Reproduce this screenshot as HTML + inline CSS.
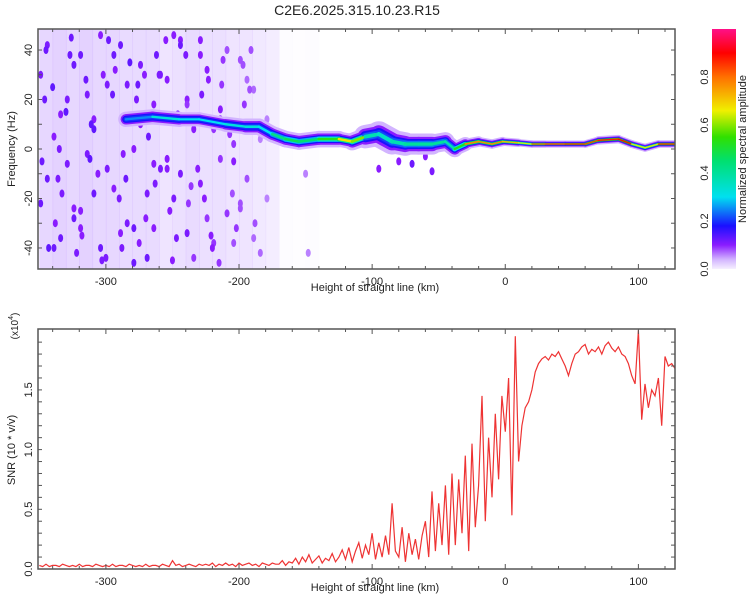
<!DOCTYPE html>
<html><head><meta charset="utf-8"><style>
html,body{margin:0;padding:0;background:#fff;}
svg{display:block;font-family:"Liberation Sans",sans-serif;}
</style></head><body>
<svg id="chart" width="750" height="600" viewBox="0 0 750 600">
<defs>
<linearGradient id="cbar" x1="0" y1="1" x2="0" y2="0">
<stop offset="0" stop-color="#f6f0ff"/><stop offset="0.04" stop-color="#d2b4ff"/>
<stop offset="0.1" stop-color="#8a1cff"/><stop offset="0.18" stop-color="#1a10ff"/>
<stop offset="0.3" stop-color="#00e0f0"/><stop offset="0.45" stop-color="#00e070"/>
<stop offset="0.55" stop-color="#30e000"/><stop offset="0.66" stop-color="#f0f000"/>
<stop offset="0.8" stop-color="#ff7000"/><stop offset="0.9" stop-color="#ff0000"/>
<stop offset="1" stop-color="#ff1088"/>
</linearGradient>
<clipPath id="clipTop"><rect x="38" y="29" width="637" height="240"/></clipPath>
<clipPath id="clipBot"><rect x="38" y="329" width="637" height="240"/></clipPath>
</defs>
<text x="357" y="15" text-anchor="middle" font-size="14" fill="#222">C2E6.2025.315.10.23.R15</text>
<g id="top"></g>
<g id="bot"></g>
<g id="cb"></g>
</svg>
<script>
// ---------- data ----------
const ridgeKm  = [-285,-265,-245,-230,-210,-195,-185,-175,-165,-155,-140,-125,-115,-105,-95,-85,-75,-65,-55,-45,-38,-30,-20,-10,-2,10,20,30,45,60,70,85,95,105,115,127.5];
const ridgeHz  = [12,13,12,12,10,9,9,6,4,3,4,4,3,5,6,3,2,2,2,3,0,2,3,2,3,2.5,2,2,2,2,3.5,4,2,0.5,2,2];
const ridgeAmp = [0.15,0.35,0.3,0.3,0.3,0.35,0.3,0.3,0.55,0.4,0.5,0.55,0.8,0.4,0.35,0.35,0.4,0.4,0.4,0.4,0.35,0.7,0.85,0.7,0.85,0.6,0.7,0.95,0.95,0.9,0.8,0.95,0.85,0.45,0.9,0.95];
const ridgeSpread = [3,3.5,3,3,3,3.5,3.5,3.5,3.5,3.5,3.5,3.5,3,4.5,5.5,5.5,4.5,4.5,4.5,3.5,3.5,2.5,2,2,2,1.6,1.6,1.5,1.5,1.5,1.8,1.8,1.6,1.8,1.6,1.6];
const bgBinKm  = [-350,-340,-330,-320,-310,-300,-290,-280,-270,-260,-250,-240,-230,-220,-210,-200,-190,-180,-170,-160,-150];
const bgLevel  = [0.45,0.5,0.45,0.5,0.45,0.45,0.4,0.4,0.4,0.3,0.35,0.4,0.35,0.35,0.3,0.3,0.25,0.2,0.04,0.02,0.04];
const dotKm = [-345,-338,-330,-322,-315,-306,-298,-290,-282,-275,-268,-260,-252,-244,-236,-228,-220,-212,-204,-196,-188,-348,-340,-333,-326,-318,-309,-300,-293,-285,-277,-270,-262,-254,-246,-238,-229,-221,-213,-205,-197,-343,-335,-327,-319,-311,-303,-295,-287,-279,-271,-263,-255,-247,-239,-231,-223,-215,-207,-199,-191,-346,-336,-324,-312,-302,-288,-276,-264,-250,-240,-226,-214,-202,-192,-150,-148,-95,-80,-70,-60,-55];
const dotHz = [40,-30,15,-42,28,-10,44,-20,35,-38,5,30,-25,42,-15,22,-40,36,-5,18,-30,-5,25,-18,45,-35,8,-44,32,-12,20,-28,38,-8,14,-22,44,-35,26,-18,34,-40,0,38,-25,10,-45,22,-2,-32,30,-14,44,-36,18,-8,28,-46,6,-24,40,20,-12,-28,-4,30,-40,26,-6,-45,38,-20,12,-32,24,-10,-42,-8,-5,-6,-3,-9];
const dotAmp = [0.12,0.1,0.13,0.11,0.12,0.1,0.12,0.11,0.13,0.1,0.12,0.11,0.1,0.12,0.09,0.11,0.1,0.09,0.1,0.09,0.08,0.12,0.13,0.11,0.12,0.1,0.13,0.11,0.1,0.12,0.11,0.1,0.12,0.1,0.11,0.09,0.1,0.1,0.09,0.08,0.08,0.13,0.11,0.12,0.1,0.13,0.11,0.12,0.1,0.12,0.1,0.11,0.1,0.11,0.09,0.1,0.1,0.09,0.09,0.08,0.08,0.12,0.11,0.12,0.13,0.1,0.11,0.12,0.1,0.1,0.11,0.1,0.09,0.09,0.08,0.06,0.06,0.1,0.1,0.12,0.1,0.11];
const dot2Km = [-349,-344,-339,-334,-329,-324,-319,-314,-309,-304,-299,-294,-289,-284,-279,-274,-269,-264,-259,-254,-249,-244,-239,-234,-229,-224,-219,-214,-209,-204,-199,-194,-189,-184,-179,
-349,-344,-339,-334,-329,-324,-319,-314,-309,-304,-299,-294,-289,-284,-279,-274,-269,-264,-259,-254,-249,-244,-239,-234,-229,-224,-219,-214,-209,-204,-199,-194,-189,-184,-179];
const dot2Hz = [30,-12,5,-36,20,-24,38,-2,12,-40,26,-16,42,-30,0,34,-44,18,-8,28,-20,44,-34,8,-14,32,-38,16,-26,2,36,-12,24,-42,12,
-22,42,-40,14,-6,34,-32,22,-18,46,-8,38,-34,26,-46,10,-18,-32,30,-4,46,-10,20,-44,38,-28,8,-4,40,-38,-22,28,-36,4,-20];
const dot2Amp = [0.11,0.12,0.1,0.12,0.11,0.1,0.12,0.11,0.1,0.12,0.11,0.1,0.12,0.11,0.1,0.11,0.12,0.1,0.11,0.1,0.11,0.1,0.11,0.1,0.1,0.1,0.09,0.1,0.09,0.09,0.08,0.08,0.07,0.07,0.06,
0.12,0.11,0.12,0.1,0.11,0.12,0.1,0.11,0.12,0.1,0.11,0.12,0.1,0.11,0.12,0.1,0.11,0.1,0.11,0.1,0.1,0.11,0.1,0.09,0.1,0.09,0.09,0.09,0.08,0.08,0.08,0.07,0.07,0.06,0.06];
const snrStartKm = -350, snrStepKm = 2.5;
const snrValues = [
0.03,0.02,0.04,0.02,0.03,0.03,0.02,0.04,0.03,0.02,0.03,0.02,0.04,0.02,0.03,0.03,0.02,0.04,0.03,0.02,
0.03,0.02,0.04,0.02,0.03,0.03,0.02,0.04,0.03,0.02,0.03,0.02,0.04,0.02,0.03,0.03,0.02,0.04,0.03,0.02,
0.07,0.03,0.04,0.02,0.03,0.04,0.03,0.02,0.04,0.03,0.04,0.03,0.05,0.02,0.04,0.03,0.05,0.03,0.04,0.02,
0.05,0.03,0.04,0.05,0.03,0.04,0.02,0.05,0.04,0.03,0.05,0.04,
0.04,0.07,0.03,0.06,0.05,0.09,0.04,0.10,0.06,0.12,0.05,0.08,0.11,0.05,0.09,0.07,0.13,0.06,0.10,0.16,
0.08,0.18,0.06,0.15,0.22,0.09,0.20,0.12,
0.30,0.08,0.22,0.10,0.28,0.12,0.55,0.15,
0.10,0.35,0.06,0.30,0.12,0.25,0.08,0.28,
0.40,0.10,0.65,0.15,0.55,0.20,0.70,0.12,
0.80,0.20,0.75,0.30,0.95,0.15,1.05,0.35,
0.70,1.45,0.40,1.10,0.60,1.30,0.75,1.45,
1.15,1.60,0.45,1.95,0.90,1.20,1.35,1.40,
1.50,1.65,1.72,1.76,1.78,1.75,1.80,1.78,
1.82,1.76,1.70,1.62,1.72,1.80,1.82,1.86,
1.88,1.80,1.84,1.82,1.86,1.80,1.87,1.90,
1.85,1.82,1.86,1.80,1.78,1.72,1.62,1.55,
2.00,1.25,1.55,1.35,1.50,1.45,1.60,1.20,
1.78,1.70,1.72,1.68];
const xTicks = [-300,-200,-100,0,100];
const fTicks = [-40,-20,0,20,40];
const snrTicks = [0.0,0.5,1.0,1.5];
const cbTicks = [0.0,0.2,0.4,0.6,0.8];

// ---------- helpers ----------
const NS="http://www.w3.org/2000/svg";
const L=38,R=675;
const xMin=-351,xMax=127.5;
const X=k=>L+(k-xMin)/(xMax-xMin)*(R-L);
const T0=29,T1=269, fMin=-48.5,fMax=48.5;
const FY=f=>T1-(f-fMin)/(fMax-fMin)*(T1-T0);
const FH=h=>h/(fMax-fMin)*(T1-T0);
const B0=329,B1=569, sMax=2.01;
const SY=v=>B1-v/sMax*(B1-B0);
function mk(tag,attrs,parent){const e=document.createElementNS(NS,tag);for(const k in attrs)e.setAttribute(k,attrs[k]);parent.appendChild(e);return e;}
const stops=[[0,[246,240,255]],[0.04,[210,180,255]],[0.1,[138,28,255]],[0.18,[26,16,255]],[0.3,[0,224,240]],[0.45,[0,224,112]],[0.55,[48,224,0]],[0.66,[240,240,0]],[0.8,[255,112,0]],[0.9,[255,0,0]],[1,[255,16,136]]];
function cmap(v){v=Math.max(0,Math.min(1,v));for(let i=1;i<stops.length;i++){if(v<=stops[i][0]){const a=stops[i-1],b=stops[i];const t=(v-a[0])/(b[0]-a[0]);const c=a[1].map((x,j)=>Math.round(x+(b[1][j]-x)*t));return 'rgb('+c.join(',')+')';}}return 'rgb(255,16,136)';}

// ---------- top panel ----------
const topG=document.getElementById('top');
const hm=mk('g',{'clip-path':'url(#clipTop)'},topG);


bgBinKm.forEach((k,i)=>{
  const r=mk('rect',{x:X(k),y:T0,width:X(k+10)-X(k)+0.5,height:T1-T0,fill:'#c9a6ff','fill-opacity':bgLevel[i]},hm);
  
  
});
dot2Km.forEach((k,i)=>{
  const e=mk('ellipse',{cx:X(k),cy:FY(dot2Hz[i]),rx:2.5,ry:4,fill:cmap(dot2Amp[i])},hm);
  
  
});
dotKm.forEach((k,i)=>{
  const e=mk('ellipse',{cx:X(k),cy:FY(dotHz[i]),rx:2.5,ry:4,fill:cmap(dotAmp[i])},hm);
  
  
});
const layers=[[0.04,1.9],[0.1,1.3],[0.18,0.9]];
layers.forEach(([a,w])=>{
  for(let i=0;i<ridgeKm.length-1;i++){
    const ln=mk('line',{x1:X(ridgeKm[i]),y1:FY(ridgeHz[i]),x2:X(ridgeKm[i+1]),y2:FY(ridgeHz[i+1]),stroke:cmap(a),'stroke-width':FH((ridgeSpread[i]+ridgeSpread[i+1])/2*w),'stroke-linecap':'round'},hm);
    
    
  }
});
[[0.6,0.6],[1,0.3]].forEach(([m,w])=>{
  for(let i=0;i<ridgeKm.length-1;i++){
    const amp=(ridgeAmp[i]+ridgeAmp[i+1])/2*m;
    const ln=mk('line',{x1:X(ridgeKm[i]),y1:FY(ridgeHz[i]),x2:X(ridgeKm[i+1]),y2:FY(ridgeHz[i+1]),stroke:cmap(Math.max(amp,0.2)),'stroke-width':FH((ridgeSpread[i]+ridgeSpread[i+1])/2*w),'stroke-linecap':'round'},hm);
    
    
  }
});
function frame(g,y0,y1){
  const r=mk('rect',{x:L,y:y0,width:R-L,height:y1-y0,fill:'none',stroke:'#555','stroke-width':1.5},g);
  
  
  for(let k=-340;k<=120;k+=20){
    const maj=k%100===0, len=maj?5:3;
    mk('line',{x1:X(k),y1:y0,x2:X(k),y2:y0+len,stroke:'#555'},g);
    mk('line',{x1:X(k),y1:y1,x2:X(k),y2:y1-len,stroke:'#555'},g);
  }
  xTicks.forEach(k=>{
    const t=mk('text',{x:X(k),y:y1+16,'text-anchor':'middle','font-size':11,fill:'#222'},g);
    t.textContent=k;
    
    
  });
  const xt=mk('text',{x:375,y:y1+22,'text-anchor':'middle','font-size':11,fill:'#222'},g);
  xt.textContent='Height of straight line (km)';
  
  
}
frame(topG,T0,T1);
for(let f=-40;f<=40;f+=10){
  mk('line',{x1:R,y1:FY(f),x2:R-4,y2:FY(f),stroke:'#555'},topG);
  mk('line',{x1:L,y1:FY(f),x2:L+4,y2:FY(f),stroke:'#555'},topG);
}
fTicks.forEach(f=>{
  const t=mk('text',{x:0,y:0,'text-anchor':'middle','font-size':11,fill:'#222',transform:'translate(32,'+FY(f)+') rotate(-90)'},topG);
  t.textContent=f;
  
  
});
const yt=mk('text',{x:0,y:0,'text-anchor':'middle','font-size':11,fill:'#222',transform:'translate(15,149) rotate(-90)'},topG);
yt.textContent='Frequency (Hz)';



// ---------- colorbar ----------
const cbG=document.getElementById('cb');
const cr=mk('rect',{x:712,y:29,width:24,height:240,fill:'url(#cbar)'},cbG);


cbTicks.forEach(v=>{
  const y=269-v*240;
  const t=mk('text',{x:0,y:0,'text-anchor':'middle','font-size':11,fill:'#222',transform:'translate(708,'+y+') rotate(-90)'},cbG);
  t.textContent=v.toFixed(1);
  
  
});
const ct=mk('text',{x:0,y:0,'text-anchor':'middle','font-size':11,fill:'#222',transform:'translate(746,149) rotate(-90)'},cbG);
ct.textContent='Normalized spectral amplitude';



// ---------- bottom panel ----------
const botG=document.getElementById('bot');
const pts=snrValues.map((v,i)=>X(snrStartKm+i*snrStepKm).toFixed(1)+','+SY(v).toFixed(1)).join(' ');
const pl=mk('polyline',{points:pts,fill:'none',stroke:'#ee3333','stroke-width':1.2,'clip-path':'url(#clipBot)'},botG);


frame(botG,B0,B1);
for(let v=0.1;v<2.0;v+=0.1){
  mk('line',{x1:R,y1:SY(v),x2:R-4,y2:SY(v),stroke:'#555'},botG);
  mk('line',{x1:L,y1:SY(v),x2:L+4,y2:SY(v),stroke:'#555'},botG);
}
snrTicks.forEach(v=>{
  const t=mk('text',{x:0,y:0,'text-anchor':'middle','font-size':11,fill:'#222',transform:'translate(32,'+SY(v)+') rotate(-90)'},botG);
  t.textContent=v.toFixed(1);
  
  
});
const st=mk('text',{x:0,y:0,'text-anchor':'middle','font-size':11,fill:'#222',transform:'translate(15,450) rotate(-90)'},botG);
st.textContent='SNR (10 * v/v)';


const ex=mk('text',{x:0,y:0,'text-anchor':'middle','font-size':10,fill:'#222',transform:'translate(18,326) rotate(-90)'},botG);
ex.textContent='(x10';
const sup=mk('tspan',{dy:-5,'font-size':7},ex);
sup.textContent='4';
const cl=mk('tspan',{dy:5},ex);
cl.textContent=')';


</script>
</body></html>
